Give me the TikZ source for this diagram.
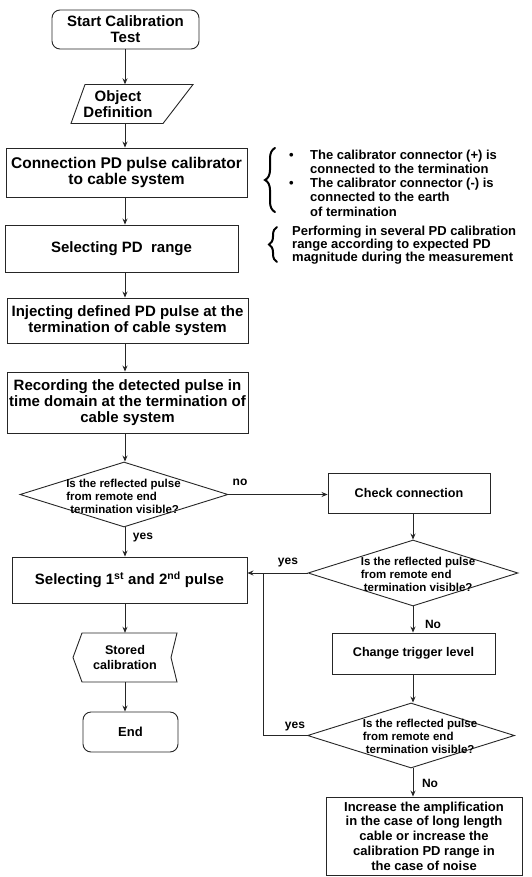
\documentclass[tikz,border=0pt]{standalone}
\usepackage{fontspec}
\setmainfont{Liberation Sans}
\usetikzlibrary{shapes.geometric,arrows.meta,decorations.pathreplacing}
\begin{document}
\begin{tikzpicture}[x=1pt,y=-1pt,
  every node/.style={font=\bfseries},
  box/.style={draw=black!85, line width=0.9pt, inner sep=0pt, align=center},
  rbox/.style={box, rounded corners=8pt},
  dia/.style={draw=black!85, line width=0.9pt, diamond, inner sep=0pt},
  ghost/.style={inner sep=0pt, align=center},
  arr/.style={draw=black!85, line width=0.9pt, -{Stealth[length=6pt,width=5pt]}},
  ln/.style={draw=black!85, line width=0.9pt},
  lbl/.style={font=\bfseries\fontsize{12}{12}\selectfont, inner sep=0pt},
  big/.style={font=\bfseries\fontsize{15}{16}\selectfont},
  mid/.style={font=\bfseries\fontsize{12.6}{14.7}\selectfont},
  dtxt/.style={font=\bfseries\fontsize{11.5}{13}\selectfont, align=left, inner sep=0pt},
  note/.style={anchor=west, align=left, inner sep=0pt},
  brc/.style={draw=black, line width=2pt, line cap=round, decorate},
]
\fill[white] (0,0) rectangle (532,877);
\useasboundingbox (0,0) rectangle (532,877);
\coordinate (colL) at (125,0);
\coordinate (colR) at (413,0);

% left column
\node[rbox, big, minimum width=147pt, minimum height=39pt] (start) at (125.5,29.5) {Start Calibration\\Test};
\node[ghost, big, minimum width=100pt, minimum height=39pt] (obj) at (118,104) {Object\\Definition};
\draw[ln] ([shift={(-33,-19.5)}]obj.center) -- ([shift={(75,-19.5)}]obj.center)
  -- ([shift={(45,19.5)}]obj.center) -- ([shift={(-47,19.5)}]obj.center) -- cycle;
\node[box, font=\bfseries\fontsize{15.5}{16}\selectfont, minimum width=241pt, minimum height=49pt] (conn) at (126.5,172.5) {Connection PD pulse calibrator\\to cable system};
\node[box, big, minimum width=233pt, minimum height=47pt] (range) at (121.5,248.5) {Selecting PD\ \ range};
\node[box, big, minimum width=241pt, minimum height=45pt] (inject) at (127.5,320.5) {Injecting defined PD pulse at the\\termination of cable system};
\node[box, big, minimum width=241pt, minimum height=61pt] (record) at (127.5,402.5) {Recording the detected pulse in\\time domain at the termination of\\cable system};
\node[dia, minimum width=208pt, minimum height=65pt] (d1) at (124,494.5) {};
\node[dtxt] (d1t) at (123.5,496) {Is the reflected pulse\\from remote end\\\hspace*{4pt}termination visible?};
\node[box, big, minimum width=235pt, minimum height=46pt] (sel) at (129.5,580) {Selecting 1\textsuperscript{st} and 2\textsuperscript{nd} pulse};
\node[ghost, font=\bfseries\fontsize{12.6}{15}\selectfont, minimum width=104pt, minimum height=49pt] (stored) at (125,657.5) {Stored\\calibration};
\draw[ln] ([shift={(-43,-24.5)}]stored.center) -- ([shift={(52,-24.5)}]stored.center)
  -- ([shift={(46,0)}]stored.center) -- ([shift={(52,24.5)}]stored.center)
  -- ([shift={(-43,24.5)}]stored.center) -- ([shift={(-52,0)}]stored.center) -- cycle;
\node[rbox, font=\bfseries\fontsize{13}{15}\selectfont, minimum width=95pt, minimum height=40pt] (end) at (130.5,732) {End};

% right column
\node[box, mid, minimum width=162pt, minimum height=40pt] (check) at (409,493) {Check connection};
\node[dia, minimum width=210pt, minimum height=66pt] (d2) at (413,573) {};
\node[dtxt] (d2t) at (418,574) {Is the reflected pulse\\from remote end\\\hspace*{3pt}termination visible?};
\node[box, mid, minimum width=163pt, minimum height=41pt] (change) at (413.5,653.5) {Change trigger level};
\node[dia, minimum width=207pt, minimum height=65pt] (d3) at (411,735.5) {};
\node[dtxt] (d3t) at (420,736) {Is the reflected pulse\\from remote end\\\hspace*{3pt}termination visible?};
\node[box, font=\bfseries\fontsize{13}{14.7}\selectfont, minimum width=196pt, minimum height=78pt] (final) at (424,836) {Increase the amplification\\in the case of long length\\cable or increase the\\calibration PD range in\\the case of noise};
\coordinate (jn) at (263,573);

% side notes
\coordinate (b1t) at (275,148);
\coordinate (b1b) at (275,212);
\draw[brc, decoration={brace, amplitude=10pt}] (b1b) -- (b1t);
\node[note, font=\bfseries\fontsize{13}{14.3}\selectfont] (note1) at (289,183) {\makebox[21pt][l]{\textbullet}The calibrator connector (+) is\\\hspace*{21pt}connected to the termination\\\makebox[21pt][l]{\textbullet}The calibrator connector (-) is\\\hspace*{21pt}connected to the earth\\\hspace*{21pt}of termination};
\coordinate (b2t) at (277,227);
\coordinate (b2b) at (277,262);
\draw[brc, decoration={brace, amplitude=8pt}] (b2b) -- (b2t);
\node[note, font=\bfseries\fontsize{13}{13.3}\selectfont] (note2) at (292,245) {Performing in several PD calibration\\range according to expected PD\\magnitude during the measurement};

% connectors
\draw[arr] (start.south -| colL) -- (obj.north -| colL);
\draw[arr] (obj.south -| colL) -- (conn.north -| colL);
\draw[arr] (conn.south -| colL) -- (range.north -| colL);
\draw[arr] (range.south -| colL) -- (inject.north -| colL);
\draw[arr] (inject.south -| colL) -- (record.north -| colL);
\draw[arr] (record.south -| colL) -- (d1.north -| colL);
\draw[arr] (d1.south -| colL) -- (sel.north -| colL);
\draw[arr] (d1.east) -- (d1.east -| check.west);
\draw[arr] (check.south -| colR) -- (d2.north -| colR);
\draw[arr] (d2.west) -- (d2.west -| sel.east);
\draw[ln] (d3.west) -| (jn);
\draw[arr] (d2.south -| colR) -- (change.north -| colR);
\draw[arr] (change.south -| colR) -- (d3.north -| colR);
\draw[arr] (d3.south -| colR) -- (final.north -| colR);
\draw[arr] (sel.south -| colL) -- (stored.north -| colL);
\draw[arr] (stored.south -| colL) -- (end.north -| colL);

% labels
\node[lbl] (lno1) at (240,482) {no};
\node[lbl] (lyes1) at (143,538) {yes};
\node[lbl] (lyes2) at (288,563) {yes};
\node[lbl] (lno2) at (433,624) {No};
\node[lbl] (lyes3) at (295,727) {yes};
\node[lbl] (lno3) at (430,783) {No};
\end{tikzpicture}
\end{document}
